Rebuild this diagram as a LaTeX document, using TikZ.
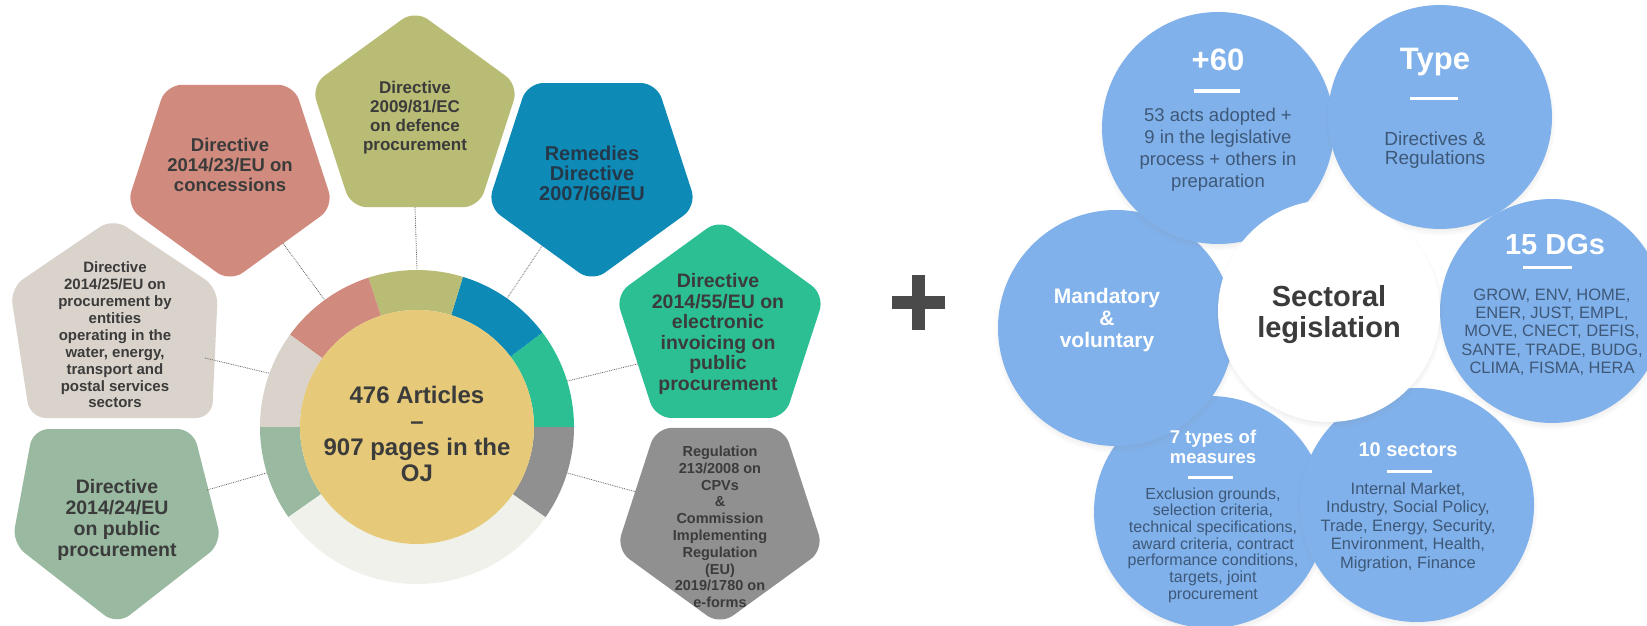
\documentclass[tikz,border=0pt]{standalone}
\usepackage{fontspec}
\setmainfont{Liberation Sans}
\usetikzlibrary{shapes.geometric,calc,shadows}
\definecolor{conc}{HTML}{D18B7E}
\definecolor{defence}{HTML}{B9BC74}
\definecolor{remedies}{HTML}{0E8AB7}
\definecolor{einv}{HTML}{2CBF94}
\definecolor{cpv}{HTML}{909090}
\definecolor{util}{HTML}{D9D3CB}
\definecolor{classic}{HTML}{99B9A1}
\definecolor{rest}{HTML}{EFF1EA}
\definecolor{core}{HTML}{E6CA79}
\definecolor{ink}{HTML}{3B3B3B}
\definecolor{remink}{HTML}{23394A}
\definecolor{petalblue}{HTML}{80B1EB}
\definecolor{petalink}{HTML}{3E5878}
\definecolor{plusgray}{HTML}{4A4A4A}
\newcommand{\fsz}[2]{\fontsize{#1}{#2}\selectfont}
\tikzset{
  pent/.style={regular polygon, regular polygon sides=5, minimum size=#1,
    inner sep=0pt, outer sep=0pt, rounded corners=16pt},
  pent/.default=218pt,
  pointdown/.style={shape border rotate=180},
  lbl/.style={align=center, text=ink, inner sep=0pt},
  link/.style={densely dotted, line width=.8pt, draw=ink!80},
  petal/.style={circle, fill=petalblue, minimum size=#1, inner sep=0pt,
    circular drop shadow={shadow xshift=0pt, shadow yshift=-3pt, opacity=.3, shadow scale=1.03}},
  head/.style={text=white, align=center, inner sep=0pt},
  body/.style={text=petalink, align=center, inner sep=0pt},
  rulebar/.style={fill=white, minimum width=#1, minimum height=3pt, inner sep=0pt}
}

\begin{document}
\begin{tikzpicture}[x=1pt,y=1pt]
\useasboundingbox (0,0) rectangle (1647,-626);
\fill[white] (0,0) rectangle (1647,-626);

% procurement acts
\node[pent, pointdown, fill=conc] (conc) at (230,-173) {};
\node[pent, fill=defence] (defence) at (415,-119) {};
\node[pent=220pt, pointdown, fill=remedies] (remedies) at (592,-172) {};
\node[pent=220pt, fill=einv] (einv) at (720,-329) {};
\node[pent, pointdown, fill=cpv] (cpv) at (720,-516) {};
\fill[util, rounded corners=16pt] (113,-218) -- (218,-288) -- (212,-418) -- (30,-418) -- (10,-288) -- cycle;
\fill[classic, rounded corners=16pt] (33,-429) -- (193,-429) -- (222,-543) -- (117,-625) -- (12,-543) -- cycle;
\coordinate (util) at (205,-358);
\coordinate (classic) at (207,-490);

% ring
\node[circle, minimum size=314pt, inner sep=0pt, outer sep=0pt] (ring) at (417,-427) {};
\foreach \a/\b/\c in {0/37/einv,37/73/remedies,73/108/defence,108/144/conc,
                      144/180/util,180/215/classic,215/325/rest,325/360/cpv}
  \fill[\c] ($(ring.center)+(\a:157pt)$) arc[start angle=\a, end angle=\b, radius=157pt]
    -- ($(ring.center)+(\b:117pt)$) arc[start angle=\b, end angle=\a, radius=117pt] -- cycle;
\node[circle, fill=core, minimum size=234pt, inner sep=0pt] (core) at (ring.center) {};

\draw[link] (conc.-53) -- (ring.126);
\draw[link] (defence.-90) -- (ring.90);
\draw[link] (remedies.-124) -- (ring.55);
\draw[link] (einv.203) -- (ring.17);
\draw[link] (cpv.164) -- (ring.-17);
\draw[link] (util) -- (ring.160);
\draw[link] (classic) -- (ring.197);

\node[lbl, font=\bfseries\fsz{18.5}{20}] (conc-txt) at (230,-165) {Directive\\2014/23/EU on\\concessions};
\node[lbl, font=\bfseries\fsz{17}{19}] (defence-txt) at (415,-118) {Directive\\2009/81/EC\\on defence\\procurement};
\node[lbl, text=remink, font=\bfseries\fsz{20}{20}] (remedies-txt) at (592,-173) {Remedies\\Directive\\2007/66/EU};
\node[lbl, font=\bfseries\fsz{19.5}{20.5}] (einv-txt) at (718,-334) {Directive\\2014/55/EU on\\electronic\\invoicing on\\public\\procurement};
\node[lbl, font=\bfseries\fsz{14.5}{16.8}] (cpv-txt) at (720,-527) {Regulation\\213/2008 on\\CPVs\\\&\\Commission\\Implementing\\Regulation\\(EU)\\2019/1780 on\\e-forms};
\node[lbl, font=\bfseries\fsz{15}{16.9}] (util-txt) at (115,-335) {Directive\\2014/25/EU on\\procurement by\\entities\\operating in the\\water, energy,\\transport and\\postal services\\sectors};
\node[lbl, font=\bfseries\fsz{19.5}{21}] (classic-txt) at (117,-520) {Directive\\2014/24/EU\\on public\\procurement};
\node[lbl, font=\bfseries\fsz{24}{26}] (core-txt) at (417,-434) {476 Articles\\–\\907 pages in the\\OJ};

% plus
\node[fill=plusgray, minimum width=53pt, minimum height=13pt, inner sep=0pt] (plus-h) at (918,-302) {};
\node[fill=plusgray, minimum width=13pt, minimum height=55pt, inner sep=0pt] (plus-v) at (918,-302) {};

% sectoral flower
\node[petal=232pt] (measures) at (1210,-512) {};
\node[petal=236pt] (mandatory) at (1116,-328) {};
\node[petal=232pt] (acts) at (1218,-128) {};
\node[petal=224pt] (type) at (1440,-117) {};
\node[petal=224pt] (dgs) at (1552,-311) {};
\node[petal=234pt] (sectors) at (1417,-505) {};
\node[circle, fill=white, minimum size=222pt, inner sep=0pt,
  circular drop shadow={shadow xshift=0pt, shadow yshift=-3pt, opacity=.3, shadow scale=1.03}] (sectoral) at (1329,-311) {};

\node[head, font=\bfseries\fsz{31}{32}] (acts-head) at (1218,-60) {+60};
\node[rulebar=46pt] (acts-bar) at (1217,-91) {};
\node[body, font=\fsz{18.5}{22}] (acts-txt) at (1218,-150) {53 acts adopted +\\9 in the legislative\\process + others in\\preparation};
\node[head, font=\bfseries\fsz{31}{32}] (type-head) at (1435,-62) {Type};
\node[rulebar=48pt] (type-bar) at (1434,-98) {};
\node[body, font=\fsz{19}{19.5}] (type-txt) at (1435,-150) {Directives \&\\Regulations};
\node[head, font=\bfseries\fsz{29}{30}] (dgs-head) at (1555,-245) {15 DGs};
\node[rulebar=49pt] (dgs-bar) at (1547,-267) {};
\node[body, font=\fsz{16.5}{18.3}] (dgs-txt) at (1552,-332) {GROW, ENV, HOME,\\ENER, JUST, EMPL,\\MOVE, CNECT, DEFIS,\\SANTE, TRADE, BUDG,\\CLIMA, FISMA, HERA};
\node[head, font=\bfseries\fsz{20}{22}] (sectors-head) at (1408,-450) {10 sectors};
\node[rulebar=45pt] (sectors-bar) at (1409,-471) {};
\node[body, font=\fsz{16.5}{18.5}] (sectors-txt) at (1408,-527) {Internal Market,\\Industry, Social Policy,\\Trade, Energy, Security,\\Environment, Health,\\Migration, Finance};
\node[head, font=\bfseries\fsz{18.5}{20}] (measures-head) at (1213,-447) {7 types of\\measures};
\node[rulebar=45pt] (measures-bar) at (1210,-477) {};
\node[body, font=\fsz{16}{16.7}] (measures-txt) at (1213,-545) {Exclusion grounds,\\selection criteria,\\technical specifications,\\award criteria, contract\\performance conditions,\\targets, joint\\procurement};
\node[head, font=\bfseries\fsz{21}{22}] (mandatory-txt) at (1107,-320) {Mandatory\\\&\\voluntary};
\node[lbl, font=\bfseries\fsz{29}{31}] (sectoral-txt) at (1329,-315) {Sectoral\\legislation};
\end{tikzpicture}
\end{document}
